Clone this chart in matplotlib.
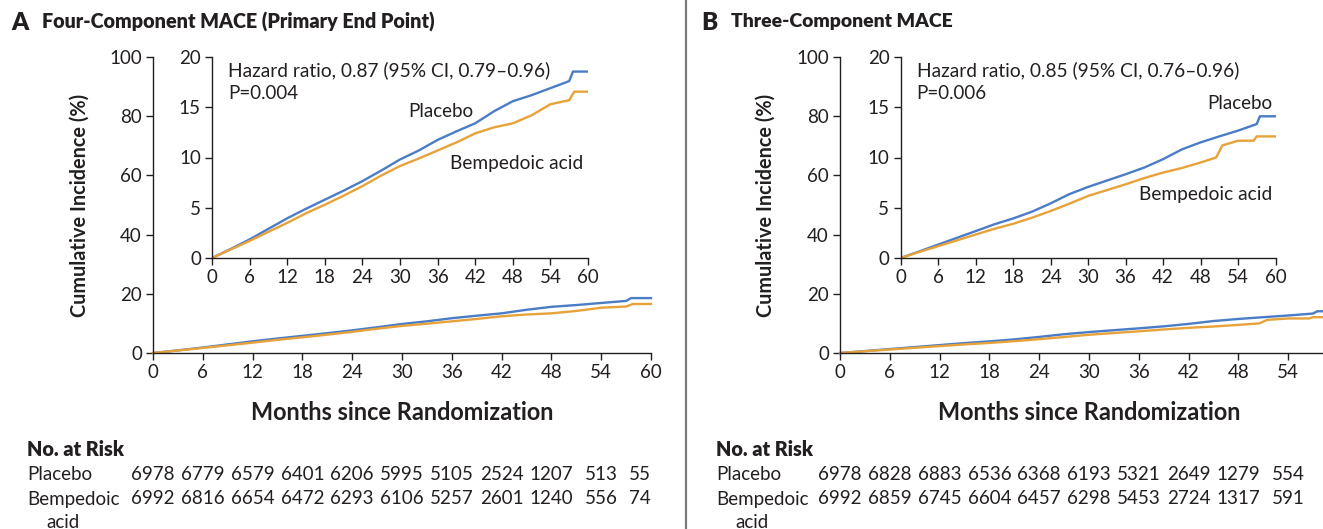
import matplotlib
matplotlib.use("Agg")
import matplotlib.pyplot as plt
from matplotlib.lines import Line2D
import matplotlib.transforms as mtransforms

plt.rcParams['font.family'] = ['Lato', 'DejaVu Sans']

# ---------------- data ----------------
months_a_pl = [0, 3, 6, 9, 12, 15, 18, 21, 24, 27, 30, 33, 36, 39, 42, 45, 48, 51, 54, 57, 57.6, 60]
placebo_4 = [0, 0.9, 1.85, 2.9, 3.95, 4.9, 5.8, 6.7, 7.65, 8.7, 9.8, 10.7, 11.75, 12.6, 13.4, 14.6, 15.6, 16.2, 16.9, 17.6, 18.55, 18.55]
months_a_bd = [0, 3, 6, 9, 12, 15, 18, 21, 24, 27, 30, 33, 36, 39, 42, 45, 48, 51, 54, 57, 57.8, 60]
bemped_4 = [0, 0.85, 1.7, 2.6, 3.5, 4.45, 5.3, 6.2, 7.15, 8.2, 9.15, 9.9, 10.7, 11.5, 12.4, 13.0, 13.4, 14.2, 15.3, 15.7, 16.55, 16.55]

months_b_pl = [0, 3, 6, 9, 12, 15, 18, 21, 24, 27, 30, 33, 36, 39, 42, 45, 48, 51, 54, 57, 57.5, 60]
placebo_3 = [0, 0.65, 1.33, 2.0, 2.67, 3.35, 3.93, 4.6, 5.43, 6.35, 7.07, 7.7, 8.33, 9.0, 9.83, 10.8, 11.5, 12.1, 12.67, 13.33, 14.1, 14.1]
months_b_bd = [0, 3, 6, 9, 12, 15, 18, 21, 24, 27, 30, 33, 36, 39, 42, 45, 48, 50.5, 51.5, 54, 56.5, 57, 60]
bemped_3 = [0, 0.6, 1.17, 1.75, 2.33, 2.9, 3.4, 4.0, 4.67, 5.4, 6.17, 6.75, 7.33, 7.95, 8.5, 8.95, 9.5, 10.0, 11.2, 11.67, 11.67, 12.1, 12.1]

risk_months = [0, 6, 12, 18, 24, 30, 36, 42, 48, 54, 60]
risk_a_placebo = [6978, 6779, 6579, 6401, 6206, 5995, 5105, 2524, 1207, 513, 55]
risk_a_bemped = [6992, 6816, 6654, 6472, 6293, 6106, 5257, 2601, 1240, 556, 74]
risk_b_placebo = [6978, 6828, 6883, 6536, 6368, 6193, 5321, 2649, 1279, 554]
risk_b_bemped = [6992, 6859, 6745, 6604, 6457, 6298, 5453, 2724, 1317, 591]

x_ticks = [0, 6, 12, 18, 24, 30, 36, 42, 48, 54, 60]
main_yticks = [0, 20, 40, 60, 80, 100]
inset_yticks = [0, 5, 10, 15, 20]

BLUE = '#4A7DC6'
ORANGE = '#E8A23A'
TXT = '#231F20'
FS = 13.5

W, H = 1323, 529
fig = plt.figure(figsize=(W / 100, H / 100), dpi=100)
renderer = fig.canvas.get_renderer()

fit_list = []


def fit(t, target_px, extent='w'):
    fit_list.append((t, target_px, extent))
    return t


def fx(px):
    return px / W


def fy(py):
    return 1 - py / H


def style(ax, yticks, hide_last_x=False):
    for s in ['top', 'right']:
        ax.spines[s].set_visible(False)
    for s in ['left', 'bottom']:
        ax.spines[s].set_linewidth(1.0)
        ax.spines[s].set_color('#231F20')
    ax.set_xlim(0, 60)
    ax.set_xticks(x_ticks)
    if hide_last_x:
        ax.set_xticklabels([str(v) for v in x_ticks[:-1]] + [''])
    ax.set_yticks(yticks)
    ax.tick_params(direction='out', length=5, width=1, colors='#231F20',
                   labelsize=FS, labelcolor=TXT, pad=3)
    ax.set_ylim(yticks[0], yticks[-1])


def panel(main_rect, inset_rect, pl_x, pl_y, bd_x, bd_y, letter, title, title_x, title_w,
          hr, p, lbl_pl, lbl_bd, ylab_x, risk_pl, risk_bd, letter_x, table_x, hide_last):
    ax = fig.add_axes(main_rect)
    ax.patch.set_alpha(0)
    style(ax, main_yticks, hide_last)
    ax.plot(pl_x, pl_y, color=BLUE, lw=1.7, solid_joinstyle='miter', clip_on=False)
    ax.plot(bd_x, bd_y, color=ORANGE, lw=1.7, solid_joinstyle='miter', clip_on=False)

    ins = fig.add_axes(inset_rect)
    ins.patch.set_alpha(0)
    style(ins, inset_yticks)
    ins.plot(pl_x, pl_y, color=BLUE, lw=1.7)
    ins.plot(bd_x, bd_y, color=ORANGE, lw=1.7)
    fit(ins.text(0.043, 0.936, hr, transform=ins.transAxes, fontsize=FS, color=TXT,
                 ha='left', va='center'), 322)
    ins.text(0.043, 0.818, p, transform=ins.transAxes, fontsize=FS, color=TXT,
             ha='left', va='center')
    t, x, y, ha = lbl_pl
    ins.text(x, y, t, transform=ins.transAxes, fontsize=FS, color=TXT, ha=ha, va='center')
    t, x, y, ha = lbl_bd
    fit(ins.text(x, y, t, transform=ins.transAxes, fontsize=FS, color=TXT, ha=ha, va='center'), 133)

    # titles
    fig.text(fx(letter_x), fy(23), letter, fontsize=17.5, fontweight='heavy', color=TXT,
             ha='left', va='center')
    fit(fig.text(fx(title_x), fy(22), title, fontsize=15, fontweight='heavy', color=TXT,
                 ha='left', va='center'), title_w)
    # axis labels
    fit(fig.text(fx(ylab_x), (main_rect[1] + main_rect[1] + main_rect[3]) / 2,
                 'Cumulative Incidence (%)', rotation=90, fontsize=15, fontweight='bold',
                 color=TXT, ha='center', va='center'), 223, 'h')
    fit(fig.text(main_rect[0] + main_rect[2] / 2, fy(412), 'Months since Randomization',
                 fontsize=15, fontweight='bold', color=TXT, ha='center', va='center'), 304)

    # risk table
    fit(fig.text(fx(table_x), fy(450), 'No. at Risk', fontsize=15, fontweight='heavy',
                 color=TXT, ha='left', va='center'), 98)
    fig.text(fx(table_x), fy(475), 'Placebo', fontsize=FS, color=TXT, ha='left', va='center')
    fig.text(fx(table_x), fy(499), 'Bempedoic', fontsize=FS, color=TXT, ha='left', va='center')
    fig.text(fx(table_x + 19), fy(522), 'acid', fontsize=FS, color=TXT, ha='left', va='center')
    tr = mtransforms.blended_transform_factory(ax.transData, fig.transFigure)
    for i, (v1, v2) in enumerate(zip(risk_pl, risk_bd)):
        m = risk_months[i]
        ha = 'right' if m == 60 else 'center'
        fig.text(m, fy(475), str(v1), transform=tr, fontsize=FS, color=TXT, ha=ha, va='center')
        fig.text(m, fy(499), str(v2), transform=tr, fontsize=FS, color=TXT, ha=ha, va='center')
    return ax, ins


main_a = [fx(153), fy(353), fx(651) - fx(153), fy(57) - fy(353)]
ins_a = [fx(212), fy(258), fx(588) - fx(212), fy(57) - fy(258)]
main_b = [fx(840), fy(353), fx(1338) - fx(840), fy(57) - fy(353)]
ins_b = [fx(900.5), fy(258), fx(1275.5) - fx(900.5), fy(57) - fy(258)]

panel(main_a, ins_a, months_a_pl, placebo_4, months_a_bd, bemped_4,
      'A', 'Four-Component MACE (Primary End Point)', 42, 395,
      'Hazard ratio, 0.87 (95% CI, 0.79\u20130.96)', 'P=0.004',
      ('Placebo', 0.521, 0.731, 'left'), ('Bempedoic acid', 0.633, 0.468, 'left'),
      80, risk_a_placebo, risk_a_bemped, 11, 27, False)

panel(main_b, ins_b, months_b_pl, placebo_3, months_b_bd, bemped_3,
      'B', 'Three-Component MACE', 731, 223,
      'Hazard ratio, 0.85 (95% CI, 0.76\u20130.96)', 'P=0.006',
      ('Placebo', 0.992, 0.77, 'right'), ('Bempedoic acid', 0.992, 0.317, 'right'),
      766, risk_b_placebo, risk_b_bemped, 701, 716, True)

# scale fitted texts to the reference's measured extents
for t, target, ext in fit_list:
    bb = t.get_window_extent(renderer=renderer)
    cur = bb.width if ext == 'w' else bb.height
    if cur > 0:
        t.set_fontsize(t.get_fontsize() * target / cur)

# divider
fig.add_artist(Line2D([fx(686), fx(686)], [0, 1], transform=fig.transFigure,
                      color='#7A7A7A', lw=1.6))

fig.savefig('out.png', dpi=100)
